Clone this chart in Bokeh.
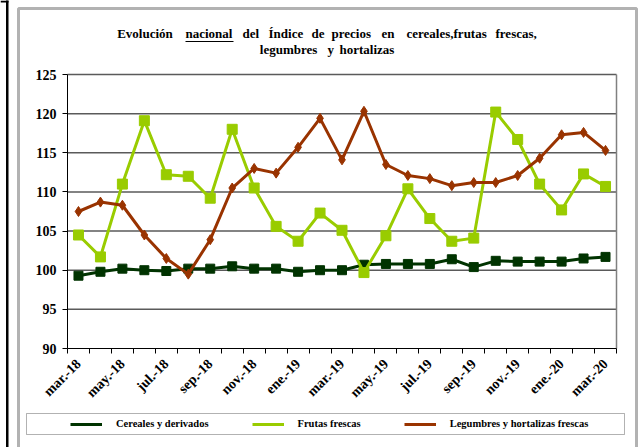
import math
from bokeh.plotting import figure
from bokeh.models import Range1d, FixedTicker, Legend, LegendItem, Label, BoxAnnotation
from bokeh.embed import file_html
from bokeh.resources import INLINE

months = ["mar.-18", "abr.-18", "may.-18", "jun.-18", "jul.-18", "ago.-18", "sep.-18",
          "oct.-18", "nov.-18", "dic.-18", "ene.-19", "feb.-19", "mar.-19", "abr.-19",
          "may.-19", "jun.-19", "jul.-19", "ago.-19", "sep.-19", "oct.-19", "nov.-19",
          "dic.-19", "ene.-20", "feb.-20", "mar.-20"]
cereales = [99.3, 99.8, 100.2, 100.0, 99.9, 100.2, 100.2, 100.5, 100.2, 100.2, 99.8, 100.0,
            100.0, 100.7, 100.8, 100.8, 100.8, 101.4, 100.4, 101.2, 101.1, 101.1, 101.1,
            101.5, 101.7]
frutas = [104.5, 101.7, 111.0, 119.1, 112.2, 112.0, 109.2, 118.0, 110.5, 105.6, 103.7, 107.3,
          105.1, 99.7, 104.4, 110.4, 106.6, 103.7, 104.1, 120.2, 116.7, 111.0, 107.7, 112.3,
          110.7]
legumbres = [107.5, 108.7, 108.3, 104.5, 101.5, 99.5, 103.9, 110.5, 113.0, 112.4, 115.7,
             119.4, 114.1, 120.3, 113.5, 112.1, 111.7, 110.8, 111.2, 111.2, 112.1, 114.3,
             117.3, 117.6, 115.3]
series_names = ["Cereales y derivados", "Frutas frescas", "Legumbres y hortalizas frescas"]
y_ticks = [90, 95, 100, 105, 110, 115, 120, 125]
Y_MIN, Y_MAX = 90, 125

FONT = "Liberation Serif"
C_CER = "#003300"
C_FRU = "#99CC00"
C_LEG = "#993300"

# canvas and data-area geometry (pixels)
W, H = 641, 447
PX_L, PX_R, PX_T, PX_B = 67, 616, 74, 348

xs = list(range(len(months)))
x0, x1 = -0.5, len(months) - 0.5
xppu = (PX_R - PX_L) / (x1 - x0)
yppu = (PX_B - PX_T) / (Y_MAX - Y_MIN)
x_range = Range1d(x0 - PX_L / xppu, x1 + (W - PX_R) / xppu)
y_range = Range1d(Y_MIN - (H - PX_B) / yppu, Y_MAX + PX_T / yppu)

p = figure(width=W, height=H, output_backend="svg", toolbar_location=None,
           x_range=x_range, y_range=y_range,
           min_border=0, min_border_left=0, min_border_right=0,
           min_border_top=0, min_border_bottom=0)
p.background_fill_color = "white"
p.border_fill_color = "white"
p.outline_line_color = None
p.grid.visible = False

# y axis
p.yaxis.fixed_location = x0
p.yaxis.bounds = (Y_MIN, Y_MAX)
p.yaxis.ticker = FixedTicker(ticks=y_ticks)
p.yaxis.major_label_text_font = FONT
p.yaxis.major_label_text_font_style = "bold"
p.yaxis.major_label_text_font_size = "14px"
p.yaxis.major_label_text_color = "black"
p.yaxis.major_tick_in = 0
p.yaxis.major_tick_out = 5
p.yaxis.minor_tick_line_color = None
p.yaxis.axis_line_color = "black"
p.yaxis.major_label_standoff = 6

# x axis
p.xaxis.fixed_location = Y_MIN
p.xaxis.bounds = (x0, x1)
p.xaxis.ticker = FixedTicker(ticks=xs[::2], minor_ticks=[i - 0.5 for i in range(len(months) + 1)])
p.xaxis.major_label_overrides = {i: months[i] for i in xs[::2]}
p.xaxis.major_label_orientation = math.pi / 4
p.xaxis.major_label_text_font = FONT
p.xaxis.major_label_text_font_style = "bold"
p.xaxis.major_label_text_font_size = "14px"
p.xaxis.major_label_text_color = "black"
p.xaxis.major_tick_in = 0
p.xaxis.major_tick_out = 0
p.xaxis.minor_tick_in = 0
p.xaxis.minor_tick_out = 5
p.xaxis.minor_tick_line_color = "black"
p.xaxis.axis_line_color = "black"
p.xaxis.major_label_standoff = 8

# grid lines and right border
gy = [t for t in y_ticks if t > Y_MIN]
p.segment(x0=[x0] * len(gy), y0=gy, x1=[x1] * len(gy), y1=gy,
          line_color="#5a5a5a", line_width=1.5)
p.segment(x0=[x1], y0=[Y_MIN], x1=[x1], y1=[Y_MAX], line_color="#808080", line_width=1.5)

# series
r1 = p.line(xs, cereales, line_color=C_CER, line_width=3)
p.scatter(xs, cereales, marker="square", size=9, fill_color=C_CER, line_color=C_CER)
r2 = p.line(xs, frutas, line_color=C_FRU, line_width=3)
p.scatter(xs, frutas, marker="square", size=10, fill_color=C_FRU, line_color=C_FRU)
r3 = p.line(xs, legumbres, line_color=C_LEG, line_width=3)
p.scatter(xs, legumbres, marker="diamond", size=10, fill_color=C_LEG, line_color=C_LEG)

def box(l, r, t, b, **kw):
    return BoxAnnotation(left=l, right=r, top=H - t, bottom=H - b,
                         left_units="screen", right_units="screen",
                         top_units="screen", bottom_units="screen", level="overlay", **kw)

# legend
legend = Legend(items=[LegendItem(label=series_names[0], renderers=[r1]),
                       LegendItem(label=series_names[1], renderers=[r2]),
                       LegendItem(label=series_names[2], renderers=[r3])],
                orientation="horizontal", location=(70, H - 433.5), padding=0, margin=0,
                spacing=43, glyph_width=32, glyph_height=20, label_height=20,
                label_standoff=14, border_line_alpha=0, background_fill_alpha=0,
                label_text_font=FONT, label_text_font_style="bold",
                label_text_font_size="10.5px", label_text_color="black")
p.add_layout(legend, "center")
p.add_layout(box(26, 624, 413, 434, fill_alpha=0, line_color="black", line_width=1))

# outer frames
p.add_layout(box(18, 636, 8, 470, fill_alpha=0, line_color="black", line_width=3))
p.add_layout(box(5.5, 8, -5, 470, fill_color="black", fill_alpha=1, line_alpha=0))
p.add_layout(box(0, 8, 0, 2, fill_color="black", fill_alpha=1, line_alpha=0))

# title words (left edge x, baseline y in page pixels)
line1 = [("Evolución", 116.7), ("nacional", 185), ("del", 242), ("Índice", 268),
         ("de", 311), ("precios", 331), ("en", 381), ("cereales,frutas", 406),
         ("frescas,", 495)]
line2 = [("legumbres", 259.3), ("y", 327), ("hortalizas", 339)]
BASE_SHIFT = 6.5
for words, yb in ((line1, 39.3), (line2, 55.7)):
    for w, x in words:
        p.add_layout(Label(x=x, y=H - (yb - BASE_SHIFT), x_units="screen", y_units="screen",
                           text=w, text_font=FONT, text_font_style="bold",
                           text_font_size="13px", text_color="black",
                           text_baseline="alphabetic", text_align="left"))
# underline of "nacional"
p.add_layout(box(185, 233, 40.5, 41.5, fill_color="black", fill_alpha=1, line_alpha=0))

open("out.html", "w").write(file_html(p, INLINE))
